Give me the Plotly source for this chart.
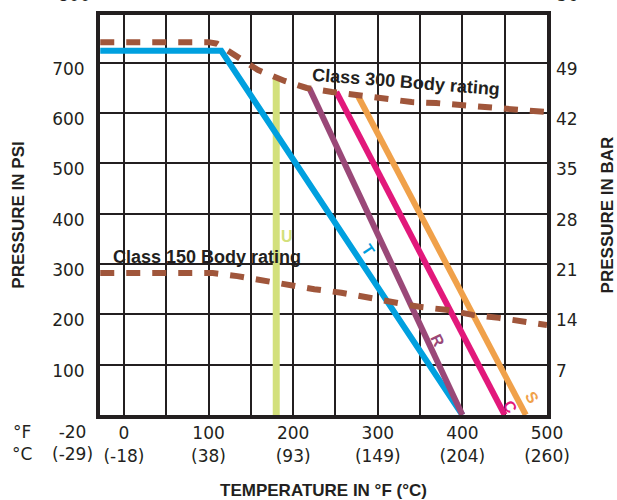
import plotly.graph_objects as go

# ---------------- data ----------------
temp_ticks_F = [0, 50, 100, 150, 200, 250, 300, 350, 400, 450, 500]
temp_tick_labels = ["0<br>(-18)", "", "100<br>(38)", "", "200<br>(93)", "",
                    "300<br>(149)", "", "400<br>(204)", "", "500<br>(260)"]
psi_ticks = [100, 200, 300, 400, 500, 600, 700]
bar_ticks = [7, 14, 21, 28, 35, 42, 49]
PSI_TO_BAR = 0.07

class300_T = [-28, 100, 110, 133, 158, 190, 216, 246, 278, 310, 340, 369, 400, 432, 463, 500]
class300_P = [741, 741, 738, 712, 686, 664, 650, 642, 636, 630, 622, 620, 616, 612, 608, 602]

class150_T = [-28, 105, 134, 166, 196, 225, 257, 287, 317, 349, 381, 412, 443, 470, 500]
class150_P = [282, 282, 276, 266, 258, 250, 243, 233, 225, 215, 209, 199, 193, 185, 179]

seat_T_x = [-28, 115, 400]
seat_T_y = [724, 724, 0]
seat_U_x = [180, 180]
seat_U_y = [0, 670]
seat_R_x = [219, 400]
seat_R_y = [650, 0]
seat_C_x = [251, 450]
seat_C_y = [642, 0]
seat_S_x = [276, 475]
seat_S_y = [636, 0]

# ---------------- styles ----------------
INK = "#231f20"
BLUE = "#00a0df"
GREEN = "#d3e07c"
PURPLE = "#9a4878"
MAGENTA = "#e2187b"
ORANGE = "#f0a14a"
BROWN = "#a0563b"
TICKFONT = dict(family="DejaVu Sans", size=17, color=INK)
BOLD = "Liberation Sans"

fig = go.Figure()

def add_line(x, y, color, width, dash="solid"):
    fig.add_trace(go.Scatter(x=x, y=y, mode="lines",
                             line=dict(color=color, width=width, dash=dash),
                             hoverinfo="skip", showlegend=False))

add_line(seat_U_x, seat_U_y, GREEN, 7)
add_line(seat_T_x, seat_T_y, BLUE, 6)
add_line(seat_R_x, seat_R_y, PURPLE, 6)
add_line(seat_C_x, seat_C_y, MAGENTA, 6)
add_line(seat_S_x, seat_S_y, ORANGE, 6)
add_line(class300_T, class300_P, BROWN, 6, "14px,12px")
add_line(class150_T, class150_P, BROWN, 6, "14px,12px")

# same Class 300 rating expressed in bar, on the right axis (invisible; activates the bar axis)
fig.add_trace(go.Scatter(x=class300_T, y=[p * PSI_TO_BAR for p in class300_P],
                         yaxis="y2", mode="lines", line=dict(width=0), opacity=0,
                         hoverinfo="skip", showlegend=False))

axis_common = dict(showgrid=True, gridcolor=INK, gridwidth=2, zeroline=False,
                   showline=True, linecolor=INK, linewidth=4, mirror=True,
                   ticks="", tickfont=TICKFONT, automargin=False)

fig.update_layout(
    width=617, height=500,
    margin=dict(l=100, r=70, t=15, b=85, autoexpand=False),
    plot_bgcolor="white", paper_bgcolor="white",
    showlegend=False,
    xaxis=dict(range=[-28.3, 500], tickvals=temp_ticks_F, ticktext=temp_tick_labels,
               ticklabelstandoff=0,
               title=dict(text="TEMPERATURE IN °F (°C)", standoff=21,
                          font=dict(family=BOLD, size=17, color=INK, weight="bold")),
               **axis_common),
    yaxis=dict(range=[0, 795], tickvals=psi_ticks, ticklabelshift=6, ticklabelstandoff=8,
               title=dict(text="PRESSURE IN PSI", standoff=24,
                          font=dict(family=BOLD, size=17, color=INK, weight="bold")),
               **axis_common),
    yaxis2=dict(range=[0, 795 * PSI_TO_BAR], tickvals=bar_ticks, overlaying="y", side="right",
                showgrid=False, zeroline=False, showline=False, ticks="", automargin=False,
                ticklabelshift=6, ticklabelstandoff=8, tickfont=TICKFONT,
                title=dict(text="PRESSURE IN BAR", standoff=24,
                           font=dict(family=BOLD, size=17, color=INK, weight="bold"))),
)

# cut-off top tick labels
fig.add_annotation(text="800", xref="paper", yref="paper", x=0, y=1.02, xanchor="right",
                   yanchor="bottom", xshift=-8, showarrow=False, font=TICKFONT)
fig.add_annotation(text="56", xref="paper", yref="paper", x=1, y=1.02, xanchor="left",
                   yanchor="bottom", xshift=8, showarrow=False, font=TICKFONT)
# extra left tick labels
fig.add_annotation(text="-20<br>(-29)", xref="paper", yref="paper", x=(72 - 100) / 447, y=0,
                   xanchor="center", yanchor="top", yshift=-5, showarrow=False, font=TICKFONT)
fig.add_annotation(text="°F<br>°C", xref="paper", yref="paper", x=(22 - 100) / 447, y=0,
                   xanchor="center", yanchor="top", yshift=-5, showarrow=False, font=TICKFONT)

# curve labels
def label(text, x, y, color, angle=0, size=16):
    fig.add_annotation(text=text, x=x, y=y, xref="x", yref="y", showarrow=False,
                       textangle=angle, xanchor="center", yanchor="middle",
                       font=dict(family=BOLD, size=size, color=color, weight="bold"))

label("T", 288, 328, BLUE, 56)
label("U", 193, 354, GREEN, 0)
label("R", 371, 149, PURPLE, 64)
label("C", 456, 16, MAGENTA, 62)
label("S", 482, 34, ORANGE, 60)
label("Class 300 Body rating", 333, 662, INK, 4.5, 18)
label("Class 150 Body rating", 98, 314, INK, 0, 18)

fig.write_html("out.html", config={"displayModeBar": False},
               post_script="document.body.style.margin='0';")
